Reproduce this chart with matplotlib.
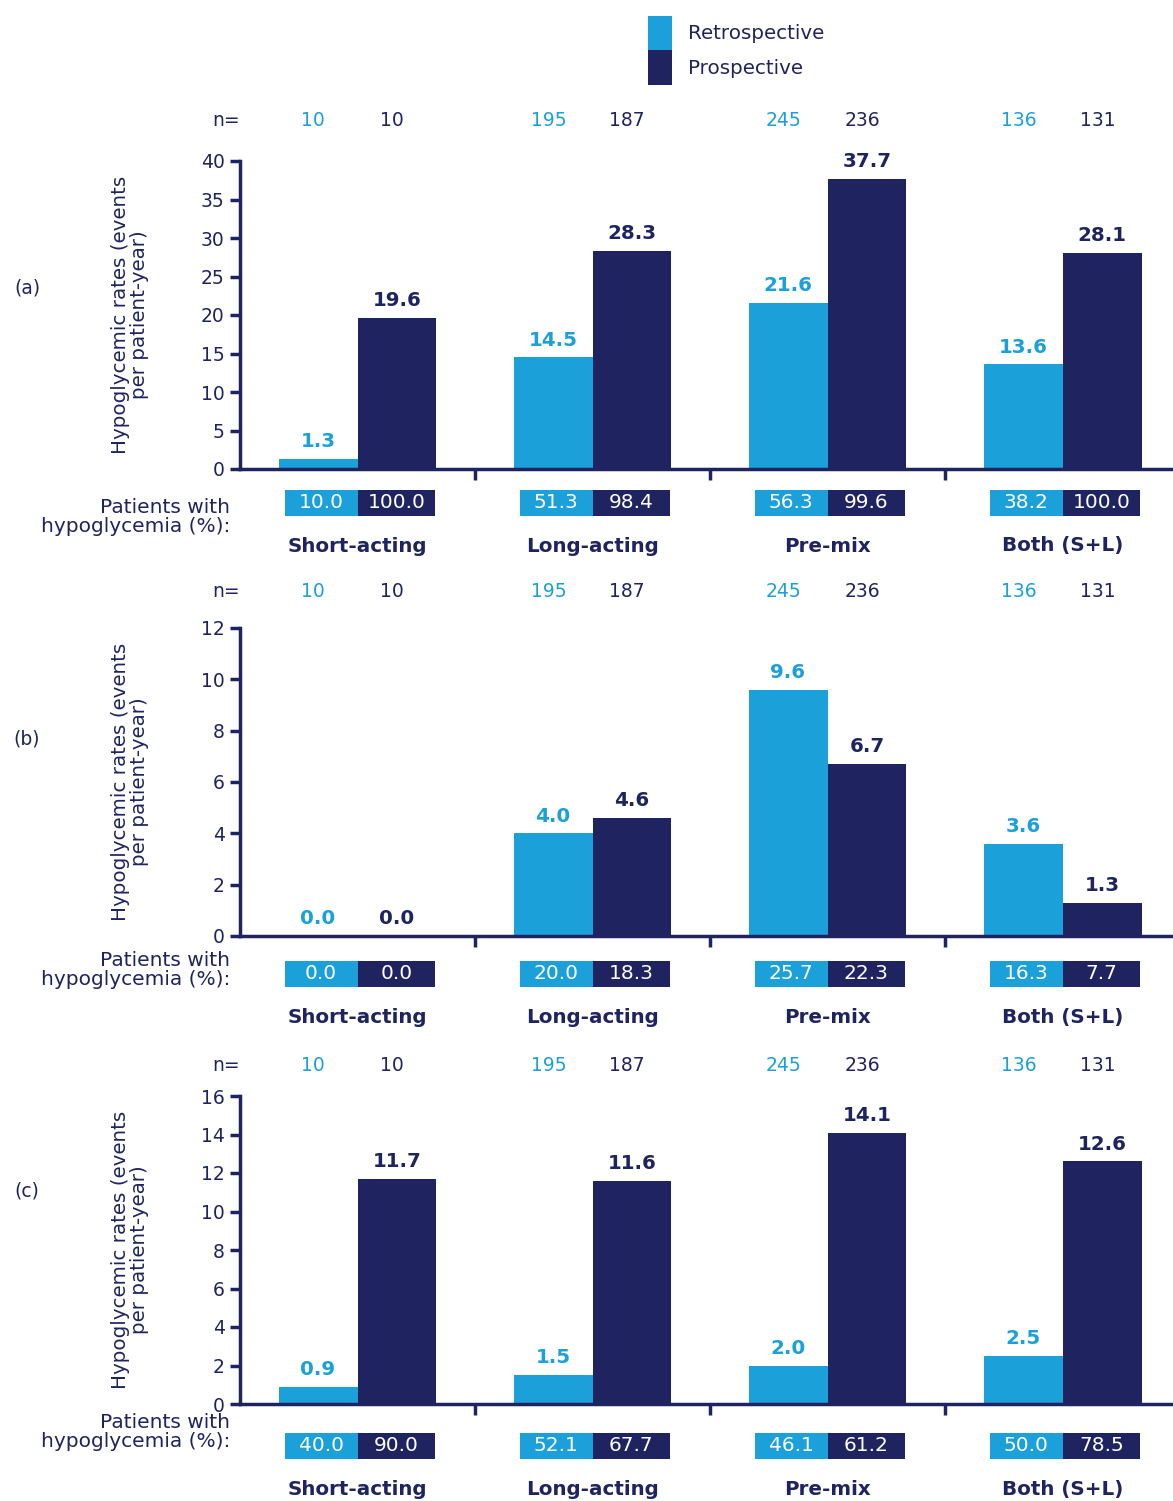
import numpy as np
import matplotlib
matplotlib.use("Agg")
import matplotlib.pyplot as plt
from matplotlib.patches import Rectangle, Patch
import matplotlib.transforms as mtransforms

# données
categories = ["Short-acting", "Long-acting", "Pre-mix", "Both (S+L)"]
n_retro = [10, 195, 245, 136]
n_prosp = [10, 187, 236, 131]

rates_retro = {
    "a": [1.3, 14.5, 21.6, 13.6],
    "b": [0.0, 4.0, 9.6, 3.6],
    "c": [0.9, 1.5, 2.0, 2.5],
}
rates_prosp = {
    "a": [19.6, 28.3, 37.7, 28.1],
    "b": [0.0, 4.6, 6.7, 1.3],
    "c": [11.7, 11.6, 14.1, 12.6],
}
pct_retro = {
    "a": ["10.0", "51.3", "56.3", "38.2"],
    "b": ["0.0", "20.0", "25.7", "16.3"],
    "c": ["40.0", "52.1", "46.1", "50.0"],
}
pct_prosp = {
    "a": ["100.0", "98.4", "99.6", "100.0"],
    "b": ["0.0", "18.3", "22.3", "7.7"],
    "c": ["90.0", "67.7", "61.2", "78.5"],
}
ymax = {"a": 40, "b": 12, "c": 16}
ystep = {"a": 5, "b": 2, "c": 2}

LIGHT = "#1ba0da"
NAVY = "#1f2460"

W, H = 1173, 1501
fig = plt.figure(figsize=(W / 100, H / 100), dpi=100)

# positions (bas de l'axe en px, offsets en coordonnées d'axe)
layout = {
    "a": dict(bottom=469, n_y=1.13, box_y=-0.11, cat_y=-0.25, pw_y=517, lab_y=288),
    "b": dict(bottom=936, n_y=1.12, box_y=-0.123, cat_y=-0.266, pw_y=970, lab_y=739),
    "c": dict(bottom=1404, n_y=1.10, box_y=-0.136, cat_y=-0.276, pw_y=1432, lab_y=1191),
}

bw = 0.336
x = np.arange(len(categories))
fs = 13.5   # texte normal
fsb = 14.3  # texte gras / étiquettes
fsp = 14.5  # boîtes %

for key in ["a", "b", "c"]:
    lay = layout[key]
    ax = fig.add_axes([240 / W, 1 - lay["bottom"] / H, (W - 240) / W, 308 / H])
    ax.bar(x - bw / 2, rates_retro[key], bw, color=LIGHT)
    ax.bar(x + bw / 2, rates_prosp[key], bw, color=NAVY)
    ax.set_xlim(-0.5, 3.47)
    ax.set_ylim(0, ymax[key])
    ax.set_yticks(np.arange(0, ymax[key] + 1, ystep[key]))
    ax.set_xticks([0.5, 1.5, 2.5])
    ax.set_xticklabels([])
    for s in ["top", "right"]:
        ax.spines[s].set_visible(False)
    for s in ["left", "bottom"]:
        ax.spines[s].set_color(NAVY)
        ax.spines[s].set_linewidth(2.5)
    ax.tick_params(axis="y", colors=NAVY, labelsize=fs, width=2.5, length=7, pad=4)
    ax.tick_params(axis="x", colors=NAVY, width=2.5, length=8)
    ax.set_ylabel("Hypoglycemic rates (events\nper patient-year)", color=NAVY, fontsize=fsb,
                  linespacing=1.0)
    ax.yaxis.set_label_coords(-0.097, 0.5)

    off = ymax[key] * 0.025
    for xi, v in zip(x, rates_retro[key]):
        ax.text(xi - bw / 2, v + off, f"{v:.1f}", ha="center", va="bottom", color=LIGHT,
                fontsize=fsb, fontweight="bold")
    for xi, v in zip(x, rates_prosp[key]):
        ax.text(xi + bw / 2, v + off, f"{v:.1f}", ha="center", va="bottom", color=NAVY,
                fontsize=fsb, fontweight="bold")

    trans = mtransforms.blended_transform_factory(ax.transData, ax.transAxes)
    # ligne n=
    ax.text(-0.5, lay["n_y"], "n=", transform=trans, ha="right", va="center", color=NAVY, fontsize=fs)
    for i in range(len(categories)):
        ax.text(i - bw / 2 - 0.02, lay["n_y"], str(n_retro[i]), transform=trans, ha="center",
                va="center", color=LIGHT, fontsize=fs)
        ax.text(i + bw / 2 - 0.02, lay["n_y"], str(n_prosp[i]), transform=trans, ha="center",
                va="center", color=NAVY, fontsize=fs)

    # boîtes des pourcentages
    bh = 0.085
    for i in range(len(categories)):
        bwid = 0.31
        ax.add_patch(Rectangle((i - bwid, lay["box_y"] - bh / 2), bwid, bh, transform=trans,
                               facecolor=LIGHT, edgecolor="none", clip_on=False))
        ax.add_patch(Rectangle((i, lay["box_y"] - bh / 2), bwid + 0.02, bh, transform=trans,
                               facecolor=NAVY, edgecolor="none", clip_on=False))
        ax.text(i - bwid / 2, lay["box_y"], pct_retro[key][i], transform=trans, ha="center",
                va="center", color="white", fontsize=fsp)
        ax.text(i + (bwid + 0.02) / 2, lay["box_y"], pct_prosp[key][i], transform=trans, ha="center",
                va="center", color="white", fontsize=fsp)
        ax.text(i, lay["cat_y"], categories[i], transform=trans, ha="center", va="center",
                color=NAVY, fontsize=fsb, fontweight="bold")

    fig.text(230 / W, 1 - lay["pw_y"] / H, "Patients with\nhypoglycemia (%):", ha="right",
             va="center", color=NAVY, fontsize=fsp, linespacing=1.0)
    fig.text(27 / W, 1 - lay["lab_y"] / H, f"({key})", ha="center", va="center",
             color=NAVY, fontsize=fs)

handles = [Patch(facecolor=LIGHT), Patch(facecolor=NAVY)]
fig.legend(handles, ["Retrospective", "Prospective"], loc="upper left",
           bbox_to_anchor=(638 / W, 1 - 6 / H), frameon=False, fontsize=fsb,
           handlelength=1.2, handleheight=2.3, labelspacing=0.0, handletextpad=0.8,
           borderpad=0, labelcolor=NAVY)

fig.savefig("out.png", dpi=100)
